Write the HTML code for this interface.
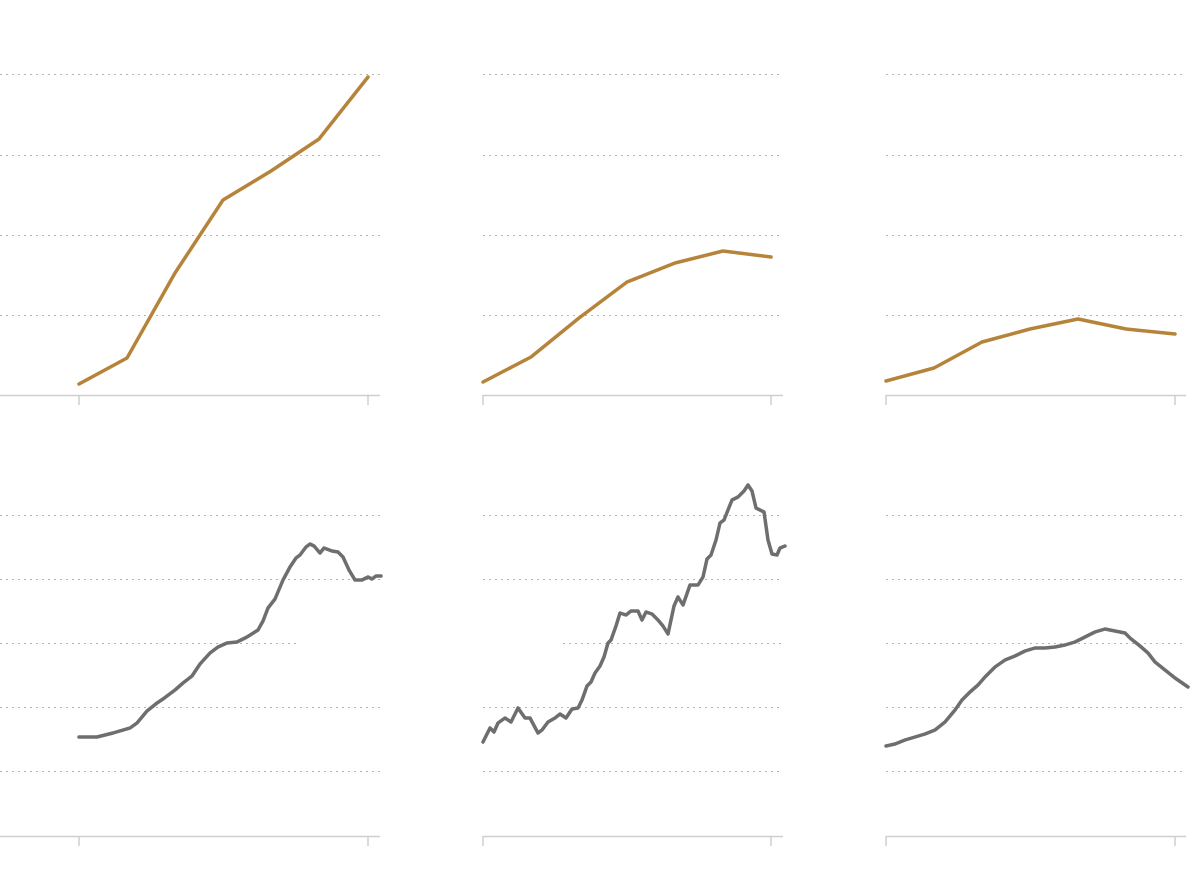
<!DOCTYPE html>
<html><head><meta charset="utf-8"><style>html,body{margin:0;padding:0;background:#fff;width:1190px;height:886px;overflow:hidden}</style></head>
<body>
<svg width="1190" height="886" viewBox="0 0 1190 886" xmlns="http://www.w3.org/2000/svg">
<g stroke="#b4b4b4" stroke-width="1" stroke-dasharray="2,4" fill="none">
<path d="M0 74.5H380M0 155.5H380M0 235.5H380M0 315.5H380"/>
<path d="M483 74.5H783M483 155.5H783M483 235.5H783M483 315.5H783"/>
<path d="M886 74.5H1186M886 155.5H1186M886 235.5H1186M886 315.5H1186"/>
<path d="M0 515.5H380M0 579.5H380M0 643.5H300M0 707.5H380M0 771.5H380"/>
<path d="M483 515.5H783M483 579.5H783M563 643.5H783M483 707.5H783M483 771.5H783"/>
<path d="M886 515.5H1186M886 579.5H1186M886 643.5H1186M886 707.5H1186M886 771.5H1186"/>
</g>
<g stroke="#cfcfcf" stroke-width="1.5" fill="none">
<path d="M0 395.5H380M79 395V405M368 395V405"/>
<path d="M483 395.5H783M483 395V405M771 395V405"/>
<path d="M886 395.5H1186M886 395V405M1175 395V405"/>
<path d="M0 836.5H380M79 836V846M368 836V846"/>
<path d="M483 836.5H783M483 836V846M771 836V846"/>
<path d="M886 836.5H1186M886 836V846M1175 836V846"/>
</g>
<g stroke="#b5843a" stroke-width="3.5" fill="none" stroke-linejoin="round" stroke-linecap="round">
<polyline points="79,384 127,358 175,273 223,200 271,171 319,139 368,77"/>
<polyline points="483,382 531,357 579,318 627,282 675,263 723,251 771,257"/>
<polyline points="886,381 934,368 982,342 1030,329 1078,319 1126,329 1175,334"/>
</g>
<g stroke="#6e6e6e" stroke-width="3.5" fill="none" stroke-linejoin="round" stroke-linecap="round">
<polyline points="79,737 97,737 113,733 130,728 137,723 147,711 157,703 163,699 175,690 183,683 192,676 200,664 210,653 218,647 227,643 237,642 247,637 258,630 263,621 268,608 275,599 283,580 290,567 296,558 300,555 306,547 310,544 314,546 320,553 324,548 332,551 338,552 343,557 349,570 355,580 362,580 368,577 372,579 376,576 381,576"/>
<polyline points="483,742 490,728 494,732 498,723 505,718 511,722 518,708 525,718 530,718 538,733 542,730 548,722 555,718 560,714 566,718 572,709 578,708 582,700 587,686 591,682 595,673 600,666 604,657 608,643 611,640 616,626 620,613 626,615 631,611 638,611 642,620 646,612 652,614 658,620 663,626 668,634 674,606 678,597 683,605 690,585 698,585 703,577 707,559 711,555 716,540 720,523 724,520 728,510 732,500 738,497 744,491 748,485 752,491 756,508 764,512 768,540 772,554 777,555 780,548 785,546"/>
<polyline points="886,746 895,744 905,740 915,737 925,734 935,730 945,722 955,710 962,700 970,692 978,685 985,677 995,667 1005,660 1015,656 1025,651 1035,648 1045,648 1055,647 1065,645 1075,642 1085,637 1095,632 1105,629 1115,631 1125,633 1130,638 1140,646 1148,653 1155,662 1165,670 1175,678 1188,687"/>
</g>
</svg>
</body></html>
